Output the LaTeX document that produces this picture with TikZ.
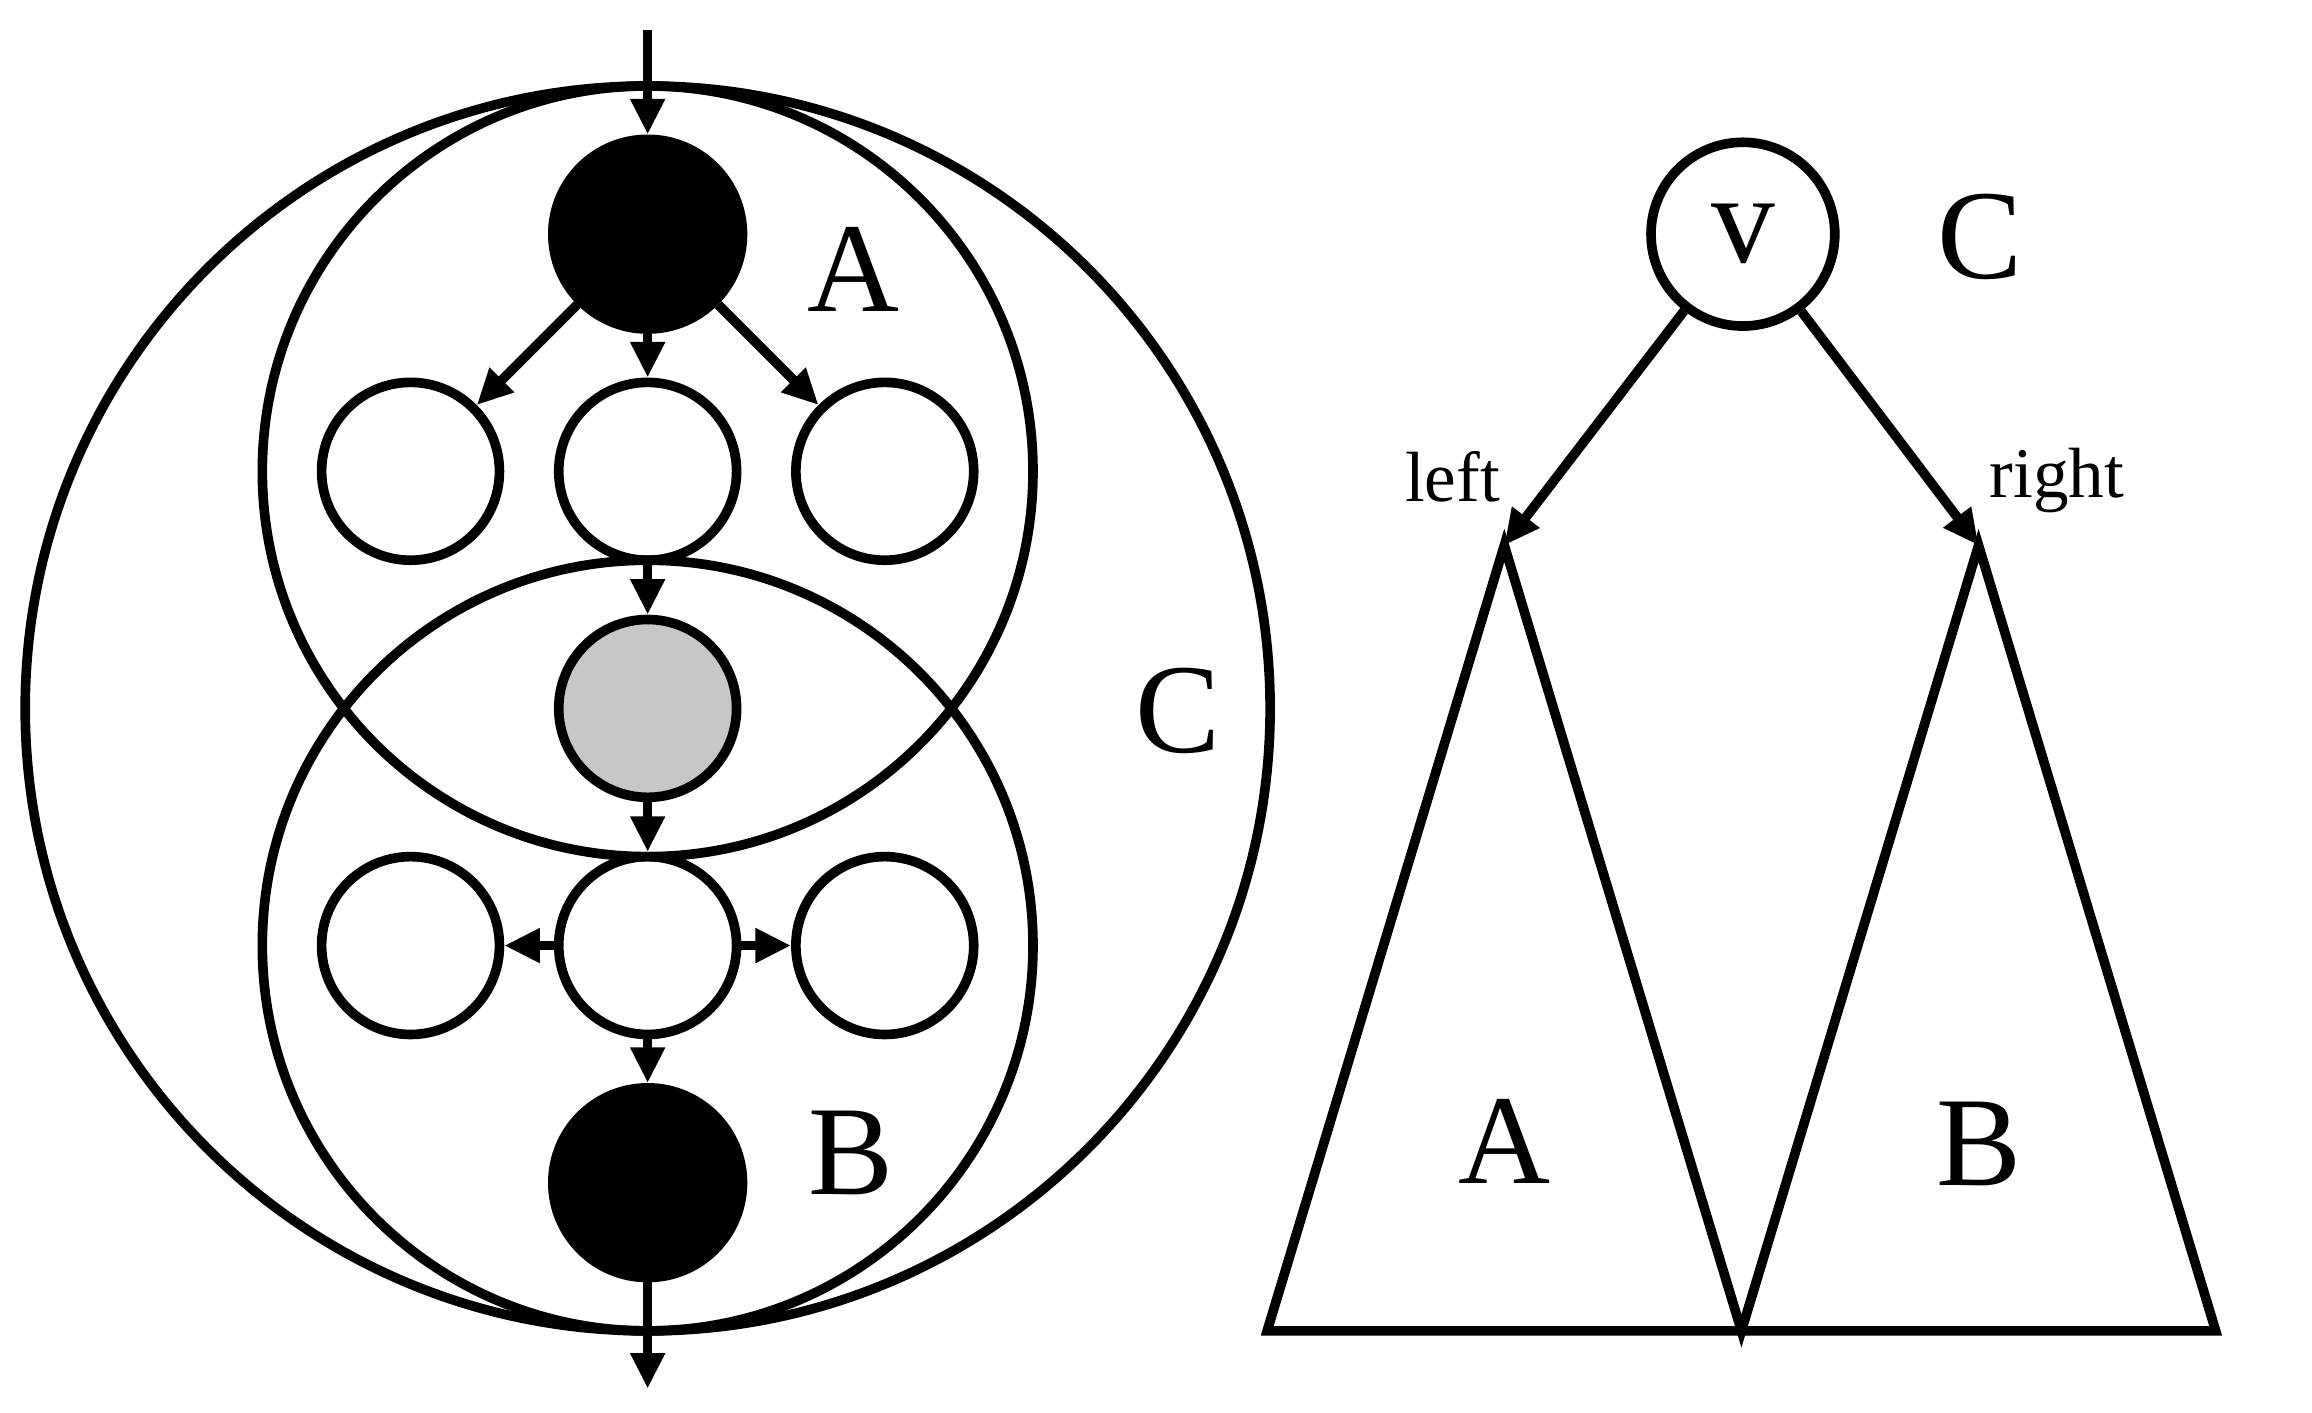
\documentclass[tikz,border=0pt]{standalone}
\usepackage{fontspec}
\setmainfont{Liberation Serif}
\usetikzlibrary{arrows.meta}
\begin{document}
\begin{tikzpicture}[x=1pt,y=-1pt,line width=6.5pt,
  nd/.style={circle,draw,minimum size=120pt,inner sep=0pt},
  bnd/.style={circle,draw,fill=black,minimum size=128pt,inner sep=0pt},
  arr/.style={-{Stealth[length=24pt,width=22pt,inset=0pt]}},
  big/.style={font=\fontsize{86}{90}\selectfont},
  small/.style={font=\fontsize{48}{50}\selectfont}]
\useasboundingbox (0,0) rectangle (1560,953);
\draw (437,478) circle (420);
\draw (437,318) circle (260);
\draw (437,638) circle (260);
\node[bnd] (a) at (437,158) {};
\node[nd] (l1) at (277,318) {};
\node[nd] (c1) at (437,318) {};
\node[nd] (r1) at (597,318) {};
\node[nd,fill=black!22] (g) at (437,478) {};
\node[nd] (l2) at (277,638) {};
\node[nd] (c2) at (437,638) {};
\node[nd] (r2) at (597,638) {};
\node[bnd] (b) at (437,798) {};
\coordinate (top) at (437,20);
\coordinate (bot) at (437,937);
\draw[arr] (top) -- (a);
\draw[arr] (a) -- (l1);
\draw[arr] (a) -- (c1);
\draw[arr] (a) -- (r1);
\draw[arr] (c1) -- (g);
\draw[arr] (g) -- (c2);
\draw[arr] (c2) -- (l2);
\draw[arr] (c2) -- (r2);
\draw[arr] (c2) -- (b);
\draw[arr] (b) -- (bot);
\node[big] (la) at (576,182) {A};
\node[big] (lb) at (574,778) {B};
\node[big] (lc) at (795,480) {C};
% right part
\node[circle,draw,minimum size=124pt,inner sep=0pt,big] (v) at (1176,158) {v};
\node[big] (lc2) at (1336,160) {C};
\coordinate (pa) at (1015,368);
\coordinate (pb) at (1335,368);
\draw[line join=miter] (pa) -- (1175,898) -- (pb) -- (1495,898) -- (855,898) -- cycle;
\draw[arr] (v) -- (pa);
\draw[arr] (v) -- (pb);
\node[small] (ll) at (980,322) {left};
\node[small] (lr) at (1388,324) {right};
\node[big] (ta) at (1015,770) {A};
\node[big] (tb) at (1335,772) {B};
\end{tikzpicture}
\end{document}
